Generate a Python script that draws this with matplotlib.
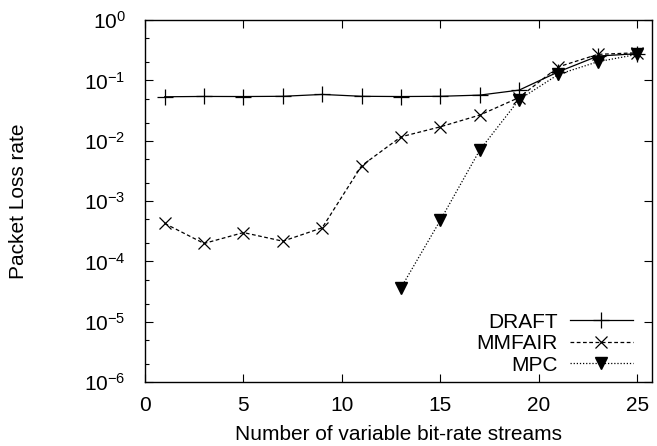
import matplotlib
matplotlib.use('Agg')
import matplotlib.pyplot as plt
from matplotlib.ticker import NullFormatter

plt.rcParams['font.family'] = ['Liberation Sans', 'DejaVu Sans']

x = [1, 3, 5, 7, 9, 11, 13, 15, 17, 19, 21, 23, 25]
draft = [0.0535, 0.0542, 0.054, 0.0545, 0.0585, 0.0545, 0.054, 0.0545, 0.057, 0.069, 0.139, 0.253, 0.277]
mmfair = [4.25e-4, 1.98e-4, 3.0e-4, 2.16e-4, 3.6e-4, 3.84e-3, 0.0116, 0.017, 0.0266, 0.052, 0.168, 0.27, 0.287]
mpc_x = [13, 15, 17, 19, 21, 23, 25]
mpc = [3.64e-5, 4.8e-4, 6.98e-3, 0.048, 0.126, 0.204, 0.27]

fig = plt.figure(figsize=(6.57, 4.46), dpi=100)
ax = fig.add_axes([0.2207, 0.1435, 0.7717, 0.8115])

ax.plot(x, draft, color='k', linestyle='-', linewidth=0.9, marker='+', markersize=11,
        markeredgewidth=0.9, label='DRAFT')
ax.plot(x, mmfair, color='k', linestyle=(0, (3, 2)), linewidth=0.9, marker='x', markersize=9,
        markeredgewidth=0.9, label='MMFAIR')
ax.plot(mpc_x, mpc, color='k', linestyle=(0, (1, 1.5)), linewidth=0.9, marker='v', markersize=8,
        label='MPC')

ax.set_yscale('log')
ax.set_xlim(0, 25.75)
ax.set_ylim(1e-6, 1)
ax.set_xticks([0, 5, 10, 15, 20, 25])
decades = [10.0 ** e for e in range(-6, 1)]
ax.set_yticks(decades)
ax.set_yticks([d * m for d in decades[:-1] for m in (2, 5)], minor=True)
ax.yaxis.set_minor_formatter(NullFormatter())

ax.tick_params(axis='both', which='major', direction='in', length=6, width=0.8,
               labelsize=15, top=True, right=True)
ax.tick_params(axis='y', which='major', pad=14)
ax.tick_params(axis='x', which='major', pad=10)
ax.tick_params(axis='y', which='minor', direction='in', length=3, width=0.8,
               left=True, right=False)
for s in ax.spines.values():
    s.set_linewidth(1.0)

ax.set_xlabel('Number of variable bit-rate streams', fontsize=15, labelpad=7)
ax.set_ylabel('Packet Loss rate', fontsize=15, labelpad=40)

ax.legend(loc='lower right', bbox_to_anchor=(0.962, 0.02), frameon=False,
          markerfirst=False, fontsize=15, handlelength=3.0, labelspacing=0.12,
          borderaxespad=0, handletextpad=0.6, borderpad=0)

fig.savefig('out.png', dpi=100)
